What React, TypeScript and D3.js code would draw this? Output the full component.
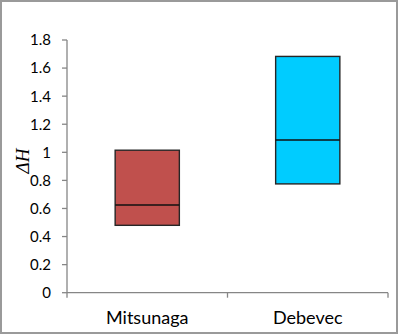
import React from "react"
import * as d3 from "d3"

// box stats
const categories = ["Mitsunaga", "Debevec"]
const q1 = [0.48, 0.775]
const median = [0.624, 1.088]
const q3 = [1.015, 1.683]
const fills = ["#C0504D", "#00CCFF"]
const yTicks = [0, 0.2, 0.4, 0.6, 0.8, 1, 1.2, 1.4, 1.6, 1.8]

const W = 399, H = 335
const margin = { top: 40, right: 11, bottom: 42, left: 67 }

export default function App() {
  const x = d3.scaleBand()
    .domain(categories)
    .range([margin.left, W - margin.right])
    .paddingInner(0.6)
    .paddingOuter(0.3)
  const y = d3.scaleLinear()
    .domain([0, 1.8])
    .range([H - margin.bottom - 0.3, margin.top])

  const y0 = y(0)
  const axisColor = "#868686"
  const font = "Lato, 'Open Sans', sans-serif"
  // category boundaries for the x ticks
  const bandStep = (W - margin.right - margin.left) / categories.length
  const xTicks = d3.range(categories.length + 1).map(i => margin.left + i * bandStep)

  return (
    <svg width={W} height={H} style={{ position: "absolute", left: 0, top: 0 }}>
      <rect x={1} y={1} width={W - 3} height={H - 3} fill="white" stroke="#9a9a9a" strokeWidth={2} />

      {/* y axis */}
      <line x1={margin.left} x2={margin.left} y1={y(1.8)} y2={y0} stroke={axisColor} strokeWidth={1.3} />
      {yTicks.map(t => (
        <g key={t}>
          <line x1={margin.left - 5} x2={margin.left} y1={y(t)} y2={y(t)} stroke={axisColor} strokeWidth={1.3} />
          <text x={51} y={y(t)} dy="0.36em" textAnchor="end" fontSize={15} fontFamily={font} fill="#000">{t}</text>
        </g>
      ))}

      {/* x axis */}
      <line x1={margin.left} x2={W - margin.right} y1={y0} y2={y0} stroke={axisColor} strokeWidth={1.3} />
      {xTicks.map((t, i) => (
        <line key={i} x1={t} x2={t} y1={y0} y2={y0 + 5} stroke={axisColor} strokeWidth={1.3} />
      ))}
      {categories.map(c => (
        <text key={c} x={x(c)! + x.bandwidth() / 2} y={324} textAnchor="middle" fontSize={18} fontFamily={font} fill="#000">{c}</text>
      ))}

      {/* boxes */}
      {categories.map((c, i) => (
        <g key={c}>
          <rect x={x(c)} y={y(q3[i])} width={x.bandwidth()} height={y(q1[i]) - y(q3[i])}
            fill={fills[i]} stroke="#262626" strokeWidth={1.4} />
          <line x1={x(c)} x2={x(c)! + x.bandwidth()} y1={y(median[i])} y2={y(median[i])} stroke="#111" strokeWidth={1.5} />
        </g>
      ))}

      <text transform={`translate(29,161) rotate(-90)`} textAnchor="middle"
        fontSize={19} fontStyle="italic" fontFamily="'Liberation Serif', serif" fill="#000">ΔH</text>
    </svg>
  )
}
